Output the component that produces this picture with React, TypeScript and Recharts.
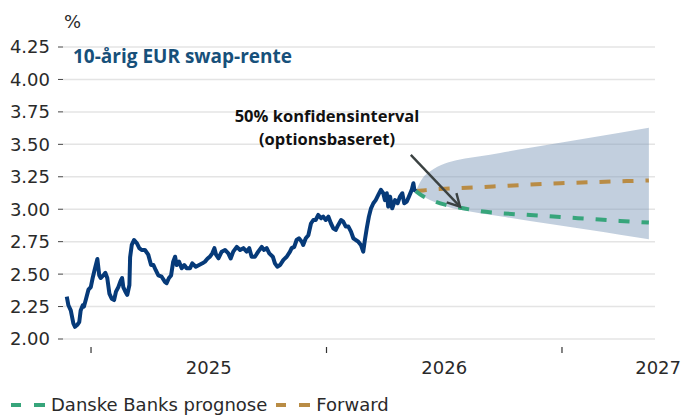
import React from 'react';
import { ComposedChart, Line, Area, XAxis, YAxis, CartesianGrid, ReferenceLine } from 'recharts';

// ---- data (fractional years) ----
const histT = [
  2024.897, 2024.904, 2024.914, 2024.925, 2024.932, 2024.942, 2024.95, 2024.956, 2024.965, 2024.97,
  2024.979, 2024.989, 2024.999, 2025.007, 2025.017, 2025.027, 2025.035, 2025.041, 2025.052, 2025.061,
  2025.069, 2025.078, 2025.088, 2025.098, 2025.106, 2025.116, 2025.126, 2025.132, 2025.137, 2025.146,
  2025.154, 2025.163, 2025.166, 2025.173, 2025.183, 2025.194, 2025.205, 2025.215, 2025.229, 2025.243,
  2025.255, 2025.265, 2025.275, 2025.286, 2025.3, 2025.314, 2025.321, 2025.331, 2025.34, 2025.349,
  2025.357, 2025.364, 2025.374, 2025.385, 2025.396, 2025.406, 2025.42, 2025.43, 2025.445, 2025.459,
  2025.473, 2025.484, 2025.496, 2025.505, 2025.515, 2025.524, 2025.531, 2025.541, 2025.555, 2025.569,
  2025.583, 2025.593, 2025.604, 2025.619, 2025.633, 2025.647, 2025.661, 2025.672, 2025.682, 2025.696,
  2025.71, 2025.725, 2025.735, 2025.746, 2025.757, 2025.772, 2025.781, 2025.791, 2025.803, 2025.817,
  2025.831, 2025.845, 2025.852, 2025.863, 2025.873, 2025.883, 2025.895, 2025.901, 2025.912, 2025.923,
  2025.934, 2025.944, 2025.954, 2025.965, 2025.977, 2025.986, 2025.997, 2026.008, 2026.019, 2026.029,
  2026.039, 2026.05, 2026.062, 2026.071, 2026.082, 2026.093, 2026.104, 2026.114, 2026.124, 2026.135,
  2026.146, 2026.156, 2026.163, 2026.171, 2026.18, 2026.189, 2026.199, 2026.209, 2026.22, 2026.231,
  2026.241, 2026.248, 2026.256, 2026.262, 2026.27, 2026.279, 2026.291, 2026.302, 2026.312, 2026.322,
  2026.33, 2026.341, 2026.35, 2026.362, 2026.369, 2026.373, 2026.379,
];
const histRate = [
  2.326, 2.26, 2.22, 2.12, 2.094, 2.11, 2.13, 2.22, 2.26, 2.25,
  2.31, 2.38, 2.4, 2.47, 2.545, 2.617, 2.49, 2.47, 2.49, 2.51,
  2.47, 2.35, 2.31, 2.3, 2.365, 2.4, 2.45, 2.47, 2.4, 2.365,
  2.34, 2.416, 2.63, 2.725, 2.763, 2.74, 2.7, 2.686, 2.686, 2.65,
  2.57, 2.57, 2.53, 2.49, 2.48, 2.44, 2.43, 2.47, 2.49, 2.596,
  2.634, 2.57, 2.596, 2.545, 2.57, 2.545, 2.545, 2.583, 2.557, 2.57,
  2.583, 2.596, 2.622, 2.634, 2.66, 2.7, 2.65, 2.622, 2.673, 2.686,
  2.66, 2.62, 2.673, 2.71, 2.686, 2.7, 2.673, 2.7, 2.634, 2.634,
  2.673, 2.71, 2.686, 2.7, 2.66, 2.634, 2.583, 2.557, 2.57, 2.61,
  2.634, 2.673, 2.7, 2.71, 2.763, 2.776, 2.75, 2.725, 2.776, 2.8,
  2.89, 2.917, 2.917, 2.956, 2.93, 2.943, 2.917, 2.943, 2.89, 2.853,
  2.84, 2.879, 2.917, 2.904, 2.866, 2.866, 2.827, 2.776, 2.763, 2.75,
  2.725, 2.673, 2.763, 2.853, 2.943, 3.007, 3.046, 3.07, 3.11, 3.149,
  3.123, 3.07, 3.123, 3.02, 3.097, 3.007, 3.07, 3.046, 3.097, 3.123,
  3.046, 3.059, 3.097, 3.149, 3.2, 3.149, 3.14,
];

const fcT = [2026.379, 2026.41, 2026.439, 2026.503, 2026.567, 2026.652, 2026.737, 2026.864, 2026.992, 2027.119, 2027.246, 2027.369];
const fcPrognose = [3.14, 3.1, 3.075, 3.035, 3.012, 2.985, 2.97, 2.955, 2.94, 2.925, 2.91, 2.897];
const fcForward = [3.14, 3.145, 3.15, 3.158, 3.163, 3.17, 3.178, 3.19, 3.2, 3.208, 3.215, 3.222];
const fcLow = [3.14, 3.1, 3.072, 3.025, 2.995, 2.969, 2.945, 2.91, 2.874, 2.839, 2.803, 2.769];
const fcHigh = [3.14, 3.245, 3.29, 3.352, 3.383, 3.408, 3.434, 3.473, 3.512, 3.55, 3.589, 3.627];

const yTicks = [2, 2.25, 2.5, 2.75, 3, 3.25, 3.5, 3.75, 4, 4.25];
const xTicks = [2025, 2026, 2027];
const xDomain: [number, number] = [2024.881, 2027.395];

const arrowStart = { x: 2026.358, y: 3.419 };
const arrowEnd = { x: 2026.567, y: 3.02 };

const histData = histT.map((t, i) => ({ t, rate: histRate[i] }));
const fcData = fcT.map((t, i) => ({
  t,
  prognose: fcPrognose[i],
  forward: fcForward[i],
  band: [fcLow[i], fcHigh[i]],
}));

// ---- styles ----
const W = 689;
const H = 418;
const MARGIN = { top: 47, right: 34, bottom: 39, left: 0 };
const Y_W = 63;
const PLOT_W = W - MARGIN.left - MARGIN.right - Y_W;
const PX_PER_YEAR = PLOT_W / (xDomain[1] - xDomain[0]);

const NAVY = '#063a79';
const GREEN = '#37a57b';
const GOLD = '#b98c45';
const TEXT = '#2a2a2a';
const FONT = '"DejaVu Sans", sans-serif';
const BOLD_FONT = '"Open Sans", sans-serif';

const legendItems = [
  { name: 'Danske Banks prognose', color: GREEN },
  { name: 'Forward', color: GOLD },
];

const XTick = (props: any) => {
  const { x, y, payload } = props;
  let lx = x + PX_PER_YEAR / 2;
  let anchor: 'middle' | 'end' = 'middle';
  if (lx + 24 > W - 8) {
    lx = W - 8;
    anchor = 'end';
  }
  return (
    <g>
      <line x1={x} x2={x} y1={y + 8} y2={y + 14} stroke="#333" strokeWidth={1.2} />
      <text x={lx} y={y + 35} textAnchor={anchor} fontFamily={FONT} fontSize={18} fill={TEXT}>
        {payload.value}
      </text>
    </g>
  );
};

const ArrowShape = (props: any) => {
  const { x1, y1, x2, y2 } = props;
  const ang = Math.atan2(y2 - y1, x2 - x1) + Math.PI;
  const arm = 14;
  const spread = 0.5;
  const ax1 = x2 + arm * Math.cos(ang + spread);
  const ay1 = y2 + arm * Math.sin(ang + spread);
  const ax2 = x2 + arm * Math.cos(ang - spread);
  const ay2 = y2 + arm * Math.sin(ang - spread);
  return (
    <g>
      <line x1={x1} y1={y1} x2={x2} y2={y2} stroke="#3b4242" strokeWidth={2.4} />
      <path d={`M${ax1},${ay1} L${x2},${y2} L${ax2},${ay2}`} fill="none" stroke="#3b4242" strokeWidth={2.4} strokeLinejoin="miter" />
    </g>
  );
};

const LegendIcon = ({ color }: { color: string }) => (
  <svg width={36} height={8} style={{ display: 'block', marginRight: 5 }}>
    <line x1={1} x2={11} y1={4} y2={4} stroke={color} strokeWidth={4} />
    <line x1={24} x2={35} y1={4} y2={4} stroke={color} strokeWidth={4} />
  </svg>
);

export default function App() {
  return (
    <div style={{ position: 'absolute', left: 0, top: 0, width: W, height: H, background: '#fff' }}>
      <ComposedChart width={W} height={H} margin={MARGIN}>
        <CartesianGrid vertical={false} stroke="#e4e4e4" strokeWidth={1.5} />
        <XAxis
          type="number"
          dataKey="t"
          domain={xDomain}
          ticks={xTicks}
          interval={0}
          allowDataOverflow
          axisLine={false}
          tickLine={false}
          tickSize={0}
          tickMargin={0}
          height={40}
          tick={<XTick />}
        />
        <YAxis
          type="number"
          domain={[2, 4.25]}
          ticks={yTicks}
          interval={0}
          width={Y_W}
          axisLine={false}
          tickLine={{ stroke: '#444', strokeWidth: 1 }}
          tickSize={5}
          tickMargin={8}
          tickFormatter={(v: number) => v.toFixed(2)}
          tick={{ fontFamily: FONT, fontSize: 18, fill: TEXT }}
        />
        <Area
          data={fcData}
          dataKey="band"
          type="monotone"
          stroke="none"
          fill="#7f9abb"
          fillOpacity={0.48}
          isAnimationActive={false}
        />
        <Line
          data={fcData}
          dataKey="forward"
          type="monotone"
          stroke={GOLD}
          strokeWidth={4}
          strokeDasharray="11 12"
          dot={false}
          isAnimationActive={false}
        />
        <Line
          data={fcData}
          dataKey="prognose"
          type="monotone"
          stroke={GREEN}
          strokeWidth={4}
          strokeDasharray="11 12"
          dot={false}
          isAnimationActive={false}
        />
        <Line
          data={histData}
          dataKey="rate"
          type="linear"
          stroke={NAVY}
          strokeWidth={4}
          strokeLinejoin="round"
          dot={false}
          isAnimationActive={false}
        />
        <ReferenceLine segment={[arrowStart, arrowEnd]} shape={ArrowShape} />
      </ComposedChart>
      <svg width={W} height={H} style={{ position: 'absolute', left: 0, top: 0, pointerEvents: 'none' }}>
        <text x={64} y={28} fontFamily={FONT} fontSize={18} fill={TEXT}>%</text>
        <text x={73} y={63} fontFamily={BOLD_FONT} fontWeight={700} fontSize={19} fill="#17507a">
          10-årig EUR swap-rente
        </text>
        <text x={327} y={122} textAnchor="middle" fontFamily={BOLD_FONT} fontWeight={700} fontSize={16.5} fill="#111">
          50% konfidensinterval
        </text>
        <text x={327} y={145} textAnchor="middle" fontFamily={BOLD_FONT} fontWeight={700} fontSize={16.5} fill="#111">
          (optionsbaseret)
        </text>
      </svg>
      <div
        style={{
          position: 'absolute',
          left: 10,
          top: 395,
          display: 'flex',
          alignItems: 'center',
          fontFamily: FONT,
          fontSize: 18,
          lineHeight: '20px',
          color: TEXT,
          whiteSpace: 'nowrap',
        }}
      >
        {legendItems.map((it) => (
          <div key={it.name} style={{ display: 'flex', alignItems: 'center', marginRight: 8 }}>
            <LegendIcon color={it.color} />
            <span>{it.name}</span>
          </div>
        ))}
      </div>
    </div>
  );
}
